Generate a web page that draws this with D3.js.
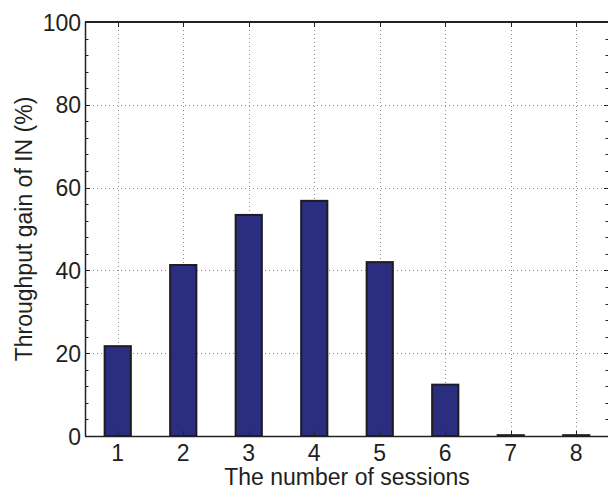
<!DOCTYPE html>
<html>
<head>
<meta charset="utf-8">
<script src="https://cdn.jsdelivr.net/npm/d3@7/dist/d3.min.js"></script>
<style>
  html, body { margin: 0; padding: 0; background: #fff; }
  svg { display: block; }
  text { font-family: "Liberation Sans", Arial, Helvetica, sans-serif; fill: #231f20; }
</style>
</head>
<body>
<svg id="chart" width="608" height="489"></svg>
<script>
// Throughput gain of IN by number of sessions
const sessions = [1, 2, 3, 4, 5, 6, 7, 8];
const gainPercent = [21.7, 41.3, 53.4, 56.8, 42.0, 12.4, 0.2, 0.2];
const yTicks = [0, 20, 40, 60, 80, 100];
const yMinorTicks = d3.range(0, 101, 4);

const svg = d3.select("#chart");
const plotLeft = 85, plotRight = 609, plotTop = 22, plotBottom = 436;
const fontSize = 23;

const x = d3.scaleLinear().domain([0.5, 8.5]).range([plotLeft, plotRight]);
const y = d3.scaleLinear().domain([0, 100]).range([plotBottom, plotTop]);
const barW = (x(2) - x(1)) * 0.4;

// dotted grid
const grid = svg.append("g").attr("stroke", "#8a8a8a").attr("stroke-width", 1)
  .attr("stroke-dasharray", "1,3");
grid.selectAll(".gx").data(sessions).join("line")
  .attr("x1", d => Math.round(x(d)) + 0.5).attr("x2", d => Math.round(x(d)) + 0.5)
  .attr("y1", plotTop).attr("y2", plotBottom);
grid.selectAll(".gy").data(yTicks.filter(v => v > 0 && v < 100)).join("line")
  .attr("x1", plotLeft).attr("x2", plotRight)
  .attr("y1", d => Math.round(y(d)) + 0.5).attr("y2", d => Math.round(y(d)) + 0.5);

// bars
svg.append("g").selectAll("rect").data(sessions).join("rect")
  .attr("x", d => x(d) - barW / 2)
  .attr("y", (d, i) => y(gainPercent[i]))
  .attr("width", barW)
  .attr("height", (d, i) => y(0) - y(gainPercent[i]))
  .attr("fill", "#2b2d7e")
  .attr("stroke", "#1c1c22")
  .attr("stroke-width", 2);

// axes box
const ax = svg.append("g").attr("stroke", "#222").attr("fill", "none");
ax.append("line").attr("x1", plotLeft).attr("x2", plotRight).attr("y1", plotBottom + 0.5).attr("y2", plotBottom + 0.5).attr("stroke-width", 1.5);
ax.append("line").attr("x1", plotLeft).attr("x2", plotRight).attr("y1", plotTop).attr("y2", plotTop).attr("stroke-width", 2);
ax.append("line").attr("x1", plotLeft + 0.5).attr("x2", plotLeft + 0.5).attr("y1", plotTop).attr("y2", plotBottom).attr("stroke-width", 1.5);
ax.append("line").attr("x1", plotRight).attr("x2", plotRight).attr("y1", plotTop).attr("y2", plotBottom).attr("stroke-width", 1.5);

// tick marks
ax.selectAll(".tb").data(sessions).join("line")
  .attr("x1", d => Math.round(x(d)) + 0.5).attr("x2", d => Math.round(x(d)) + 0.5)
  .attr("y1", plotBottom).attr("y2", plotBottom - 5);
ax.selectAll(".tt").data(sessions).join("line")
  .attr("x1", d => Math.round(x(d)) + 0.5).attr("x2", d => Math.round(x(d)) + 0.5)
  .attr("y1", plotTop).attr("y2", plotTop + 5);
ax.selectAll(".tl").data(yMinorTicks).join("line")
  .attr("x1", plotLeft).attr("x2", d => plotLeft + (d % 20 === 0 ? 5 : 3.5))
  .attr("y1", d => Math.round(y(d)) + 0.5).attr("y2", d => Math.round(y(d)) + 0.5);
ax.selectAll(".tr").data(yMinorTicks).join("line")
  .attr("x1", plotRight).attr("x2", d => plotRight - (d % 20 === 0 ? 5 : 3.5))
  .attr("y1", d => Math.round(y(d)) + 0.5).attr("y2", d => Math.round(y(d)) + 0.5);

// tick labels
svg.append("g").selectAll("text").data(sessions).join("text")
  .attr("x", d => x(d)).attr("y", 461)
  .attr("text-anchor", "middle").attr("font-size", fontSize)
  .text(d => d);
svg.append("g").selectAll("text").data(yTicks).join("text")
  .attr("x", 81).attr("y", d => y(d) + 8.5)
  .attr("text-anchor", "end").attr("font-size", fontSize)
  .text(d => d);

// axis titles
svg.append("text").attr("x", 347).attr("y", 485)
  .attr("text-anchor", "middle").attr("font-size", fontSize)
  .text("The number of sessions");
svg.append("text")
  .attr("transform", `translate(32,${y(50)}) rotate(-90)`)
  .attr("text-anchor", "middle").attr("font-size", fontSize)
  .text("Throughput gain of IN (%)");
</script>
</body>
</html>
